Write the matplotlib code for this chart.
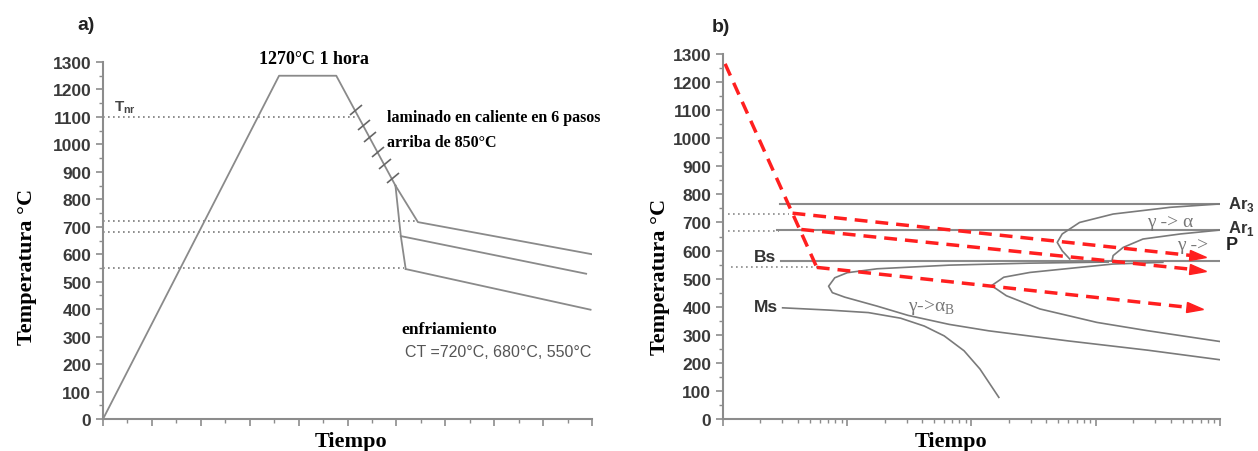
import matplotlib.pyplot as plt
from matplotlib.ticker import MultipleLocator, LogLocator, NullFormatter
from matplotlib.markers import MarkerStyle
from matplotlib.transforms import Affine2D

# ---- panel a) thermal route (time in arbitrary units) ----
heat_t = [0, 3.6, 4.77, 5.98]
heat_T = [0, 1250, 1250, 850]
quench_t = [5.98, 6.09, 6.19]
quench_T = [850, 666, 546]
ct720_t = [5.98, 6.44, 10.0]
ct720_T = [850, 717, 600]
ct680_t = [6.09, 9.88]
ct680_T = [666, 529]
ct550_t = [6.19, 9.97]
ct550_T = [546, 398]
ref_levels = [1100, 720, 680, 550]
ref_ends = [5.2, 6.44, 6.05, 6.15]
pass_t = [5.17, 5.33, 5.46, 5.63, 5.76, 5.92]
pass_T = [1124, 1070, 1027, 972, 930, 876]

# ---- panel b) CCT diagram (log time) ----
red_steep_t = [1.04, 5.69]
red_steep_T = [1265, 540]
red_start_t = [3.63, 4.27, 5.69]
red_start_T = [733, 675, 540]
red_end_t = [6607, 6607, 6310]
red_end_T = [580, 531, 395]
dot_b_T = [730, 670, 540]
dot_b_start = [1.1, 1.1, 1.16]
dot_b_end = [3.39, 2.82, 5.69]
crit_T = [767, 673, 562]
crit_start = [2.88, 2.72, 2.92]
ferr_t = [10000, 3981, 1380, 741, 537, 490, 537, 617]
ferr_T = [766, 754, 730, 700, 659, 629, 599, 570]
pear_t = [10000, 4786, 2399, 1660, 1380, 1349]
pear_T = [673, 659, 641, 611, 582, 562]
bain1_t = [1259, 288, 66.1, 17.4, 10.0, 7.94, 7.08, 7.59, 9.55, 17.4, 30.9, 66.1, 138, 603, 2630, 10000]
bain1_T = [559, 555, 548, 535, 521, 503, 473, 450, 434, 402, 369, 337, 314, 278, 245, 211]
bain2_t = [3467, 1380, 741, 295, 182, 145, 191, 355, 1023, 2570, 10000]
bain2_T = [558, 552, 540, 522, 505, 475, 439, 392, 344, 315, 276]
ms_t = [3.02, 7.08, 14.8, 26.9, 41.7, 60.3, 87.1, 117, 166]
ms_T = [396, 388, 379, 359, 331, 296, 243, 178, 77]

serif = 'Liberation Serif'
sans = 'Liberation Sans'
line_c = '#8a8a8a'
curve_c = '#7a7a7a'
red = '#ff1f1f'

fig = plt.figure(figsize=(12.58, 4.52), dpi=100)
ax1 = fig.add_axes([0.0819, 0.0708, 0.3887, 0.7898])
ax2 = fig.add_axes([0.5747, 0.0708, 0.3951, 0.8075])

# panel a
ax1.set_xlim(0, 10)
ax1.xaxis.set_major_locator(MultipleLocator(1))
ax1.xaxis.set_minor_locator(MultipleLocator(0.5))
for lvl, end in zip(ref_levels, ref_ends):
    ax1.plot([0, end], [lvl, lvl], color='#7a7a7a', lw=1.2, dashes=(1, 2))
ax1.plot(heat_t, heat_T, color=line_c, lw=1.3)
ax1.plot(quench_t, quench_T, color=line_c, lw=1.3)
ax1.plot(ct720_t, ct720_T, color=line_c, lw=1.3)
ax1.plot(ct680_t, ct680_T, color=line_c, lw=1.3)
ax1.plot(ct550_t, ct550_T, color=line_c, lw=1.3)
mk = MarkerStyle('_', transform=Affine2D().rotate_deg(40))
ax1.plot(pass_t, pass_T, ls='none', marker=mk, ms=11, mew=1.2, color='#666666')

ax1.text(4.31, 1311, '1270°C 1 hora', family=serif, weight='bold', fontsize=13, ha='center', va='center')
ax1.text(0.22, 1136, r'T$_\mathregular{nr}$', family=sans, weight='bold', fontsize=11, color='#444444', va='center')
ax1.text(5.81, 1100, 'laminado en caliente en 6 pasos', family=serif, weight='bold', fontsize=11.5, va='center')
ax1.text(5.81, 1009, 'arriba de 850°C', family=serif, weight='bold', fontsize=11.5, va='center')
ax1.text(6.11, 328, 'enfriamiento', family=serif, weight='bold', fontsize=12.5, va='center')
ax1.text(6.17, 244, 'CT =720°C, 680°C, 550°C', family=sans, fontsize=11.5, color='#555555', va='center')

# panel b
ax2.set_xscale('log')
ax2.set_xlim(1, 10000)
ax2.xaxis.set_major_locator(LogLocator(base=10))
ax2.xaxis.set_minor_locator(LogLocator(base=10, subs=[2, 3, 4, 5, 6, 7, 8, 9]))
ax2.xaxis.set_minor_formatter(NullFormatter())
for T, a, b in zip(dot_b_T, dot_b_start, dot_b_end):
    ax2.plot([a, b], [T, T], color='#8a8a8a', lw=1.2, dashes=(1, 2))
for T, a in zip(crit_T, crit_start):
    ax2.plot([a, 10000], [T, T], color=line_c, lw=1.5)
ax2.plot(ferr_t, ferr_T, color=curve_c, lw=1.2)
ax2.plot(pear_t, pear_T, color=curve_c, lw=1.2)
ax2.plot(bain1_t, bain1_T, color=curve_c, lw=1.2)
ax2.plot(bain2_t, bain2_T, color=curve_c, lw=1.2)
ax2.plot(ms_t, ms_T, color=curve_c, lw=1.2)

ax2.plot(red_steep_t, red_steep_T, color=red, lw=2.5, dashes=(3.7, 2.3))
for t0, T0, t1, T1 in zip(red_start_t, red_start_T, red_end_t, red_end_T):
    ax2.plot([t0, t1], [T0, T1], color=red, lw=2.5, dashes=(3.7, 2.3))
    arrow = MarkerStyle('>', transform=Affine2D().scale(1.3, 0.8).rotate_deg(-6))
    ax2.plot([t1], [T1], ls='none', marker=arrow, ms=9, color=red)

ax2.text(11500, 767, r'Ar$_\mathregular{3}$', family=sans, weight='bold', fontsize=12, color='#333333', va='center')
ax2.text(11500, 682, r'Ar$_\mathregular{1}$', family=sans, weight='bold', fontsize=12, color='#333333', va='center')
ax2.text(11200, 623, 'P', family=sans, weight='bold', fontsize=13, color='#222222', va='center')
ax2.text(2580, 705, 'γ -> α', family=serif, fontsize=14, color='#777777', va='center')
ax2.text(4500, 623, 'γ ->', family=serif, fontsize=14, color='#777777', va='center')
ax2.text(30.8, 399, r'γ->α$_\mathregular{B}$', family=serif, fontsize=14, color='#777777', va='center')
ax2.text(1.78, 580, 'Bs', family=sans, weight='bold', fontsize=12.5, color='#333333', va='center')
ax2.text(1.78, 402, 'Ms', family=sans, weight='bold', fontsize=12.5, color='#333333', va='center')

for ax in (ax1, ax2):
    ax.set_ylim(0, 1300)
    ax.spines['top'].set_visible(False)
    ax.spines['right'].set_visible(False)
    for s in ('left', 'bottom'):
        ax.spines[s].set_color('#8c8c8c')
        ax.spines[s].set_linewidth(1.5)
    ax.yaxis.set_major_locator(MultipleLocator(100))
    ax.yaxis.set_minor_locator(MultipleLocator(50))
    ax.tick_params(which='major', length=5, width=1.2, color='#8c8c8c', direction='out')
    ax.tick_params(which='minor', length=3, width=1.0, color='#8c8c8c', direction='out')
    ax.tick_params(axis='x', which='both', labelbottom=False)
    ax.tick_params(axis='y', labelsize=12.5, labelcolor='#3a3a3a')
    plt.setp(ax.get_yticklabels(), family=sans, weight='bold')

# labels
fig.text(77 / 1258, 1 - 25 / 452, 'a)', family=sans, weight='bold', fontsize=14, color='#222222', va='center')
fig.text(712 / 1258, 1 - 28 / 452, 'b)', family=sans, weight='bold', fontsize=14, color='#222222', va='center')
fig.text(27 / 1258, 1 - 267 / 452, 'Temperatura °C', family=serif, weight='bold', fontsize=16,
         rotation=90, ha='center', va='center')
fig.text(660 / 1258, 1 - 277 / 452, 'Temperatura °C', family=serif, weight='bold', fontsize=16,
         rotation=90, ha='center', va='center')
fig.text(351 / 1258, 1 - 442 / 452, 'Tiempo', family=serif, weight='bold', fontsize=16, ha='center', va='center')
fig.text(951 / 1258, 1 - 442 / 452, 'Tiempo', family=serif, weight='bold', fontsize=16, ha='center', va='center')

fig.savefig('out.png', dpi=100)
